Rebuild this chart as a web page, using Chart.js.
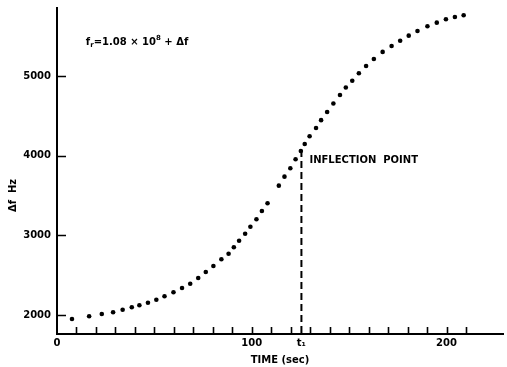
<!DOCTYPE html>
<html>
<head>
<meta charset="utf-8">
<script src="https://cdn.jsdelivr.net/npm/chart.js@4/dist/chart.umd.min.js"></script>
<style>
  html, body { margin: 0; padding: 0; background: #fff; }
  #wrap { width: 507px; height: 367px; }
</style>
</head>
<body>
<div id="wrap"><canvas id="myChart" width="507" height="367"></canvas></div>
<script>
// time (sec) of each plotted point
const times = [7.7, 16.5, 23.0, 28.8, 33.7, 38.4, 42.3, 46.7, 51.0, 55.2, 59.8, 64.2, 68.4, 72.5,
  76.4, 80.3, 84.4, 88.1, 90.8, 93.5, 96.6, 99.3, 102.4, 105.2, 108.1, 113.9, 116.8, 119.8,
  122.5, 125.2, 127.2, 129.7, 133.0, 135.6, 138.7, 141.9, 145.3, 148.3, 151.6, 155.0, 158.7,
  162.7, 167.2, 171.8, 176.2, 180.6, 185.1, 190.2, 195.0, 199.7, 204.3, 208.8];
// delta f (Hz)
const deltaF = [1950, 1984, 2013, 2034, 2067, 2097, 2122, 2154, 2192, 2235, 2285, 2339, 2393, 2464,
  2540, 2615, 2699, 2769, 2850, 2932, 3020, 3108, 3202, 3305, 3402, 3623, 3736, 3841,
  3954, 4058, 4146, 4243, 4347, 4445, 4548, 4654, 4761, 4855, 4940, 5033, 5125,
  5213, 5301, 5376, 5442, 5505, 5564, 5623, 5668, 5711, 5740, 5761];

const T1 = 125.5;          // inflection time t1
const inflectionF = 4070;  // top of dashed marker
const xLabels = [0, 100, 200];
const yTicks = [2000, 3000, 4000, 5000];
const xMin = 0, xMax = 229;
const yMin = 1762, yMax = 5852;

const FONT = 'DejaVu Sans';
Chart.defaults.font.family = FONT;
Chart.defaults.color = '#000';

// ticks on this chart point inward, and a few labels live inside the plot
const paperMarks = {
  id: 'paperMarks',
  afterDraw(chart) {
    const { ctx, chartArea, scales } = chart;
    const x = scales.x, y = scales.y;
    ctx.save();
    ctx.strokeStyle = '#000';
    ctx.lineWidth = 1.6;
    ctx.beginPath();
    x.ticks.forEach(t => {
      if (t.value === 0 || t.value === T1) return;
      const px = Math.round(x.getPixelForValue(t.value)) + 0.5;
      ctx.moveTo(px, chartArea.bottom + 1);
      ctx.lineTo(px, chartArea.bottom - 7);
    });
    y.ticks.forEach(t => {
      const py = Math.round(y.getPixelForValue(t.value)) + 0.5;
      ctx.moveTo(chartArea.left, py);
      ctx.lineTo(chartArea.left + 9, py);
    });
    ctx.stroke();

    ctx.fillStyle = '#000';
    ctx.textBaseline = 'middle';

    // y axis title, centred on 3500
    ctx.save();
    ctx.translate(13, y.getPixelForValue(3500));
    ctx.rotate(-Math.PI / 2);
    ctx.textAlign = 'center';
    ctx.font = 'bold 10px ' + FONT;
    ctx.fillText('\u0394f  Hz', 0, 0);
    ctx.restore();

    // inflection label
    ctx.textAlign = 'left';
    ctx.font = 'bold 10px ' + FONT;
    ctx.fillText('INFLECTION  POINT', x.getPixelForValue(T1) + 8, y.getPixelForValue(3945));

    // formula f_r = 1.08 x 10^8 + delta f
    let cx = x.getPixelForValue(14.8);
    const cy = y.getPixelForValue(5426);
    const part = (txt, size, dy) => {
      ctx.font = '600 ' + size + 'px ' + FONT;
      ctx.fillText(txt, cx, cy + dy);
      cx += ctx.measureText(txt).width;
    };
    part('f', 10, 0);
    part('r', 7, 3);
    part('=1.08 \u00d7 10', 10, 0);
    part('8', 7, -4);
    part(' + \u0394f', 10, 0);
    ctx.restore();
  }
};

const ctx = document.getElementById('myChart').getContext('2d');

new Chart(ctx, {
  type: 'scatter',
  data: {
    datasets: [
      {
        label: 'delta f',
        data: times.map((t, i) => ({ x: t, y: deltaF[i] })),
        backgroundColor: '#000',
        borderColor: '#000',
        pointRadius: 2.3,
        pointBorderWidth: 0,
        showLine: false,
      },
      {
        label: 'inflection',
        data: [{ x: T1, y: inflectionF }, { x: T1, y: yMin }],
        borderColor: '#000',
        borderWidth: 2,
        borderDash: [7, 4],
        pointRadius: 0,
        showLine: true,
      },
    ],
  },
  options: {
    responsive: false,
    animation: false,
    layout: { padding: { top: 8, right: 0, left: 0, bottom: 0 } },
    plugins: {
      legend: { display: false },
      tooltip: { enabled: false },
    },
    scales: {
      x: {
        type: 'linear',
        min: xMin,
        max: xMax,
        grid: { display: true, drawOnChartArea: false, drawTicks: false },
        border: { display: true, color: '#000', width: 2 },
        afterBuildTicks: (scale) => {
          const ticks = scale.ticks.filter(t => t.value % 10 === 0);
          ticks.push({ value: T1 });
          ticks.sort((a, b) => a.value - b.value);
          scale.ticks = ticks;
        },
        afterFit: (scale) => { scale.height = 33; },
        ticks: {
          stepSize: 10,
          autoSkip: false,
          maxRotation: 0,
          padding: 3,
          font: { size: 10, weight: 'bold' },
          callback: function (value) {
            if (value === T1) return 't\u2081';
            return xLabels.includes(value) ? String(value) : '';
          },
        },
        title: {
          display: true,
          text: 'TIME (sec)',
          font: { size: 10, weight: 'bold' },
          padding: { top: 0, bottom: 1 },
        },
      },
      y: {
        type: 'linear',
        min: yMin,
        max: yMax,
        grid: { display: true, drawOnChartArea: false, drawTicks: false },
        border: { display: true, color: '#000', width: 2 },
        afterBuildTicks: (scale) => {
          scale.ticks = yTicks.map(v => ({ value: v }));
        },
        afterFit: (scale) => {
          scale.width = 57;
          scale.paddingTop = 0;
        },
        ticks: {
          autoSkip: false,
          padding: 6,
          font: { size: 10, weight: 'bold' },
          callback: (value) => String(value),
        },
      },
    },
  },
  plugins: [paperMarks],
});
</script>
</body>
</html>
